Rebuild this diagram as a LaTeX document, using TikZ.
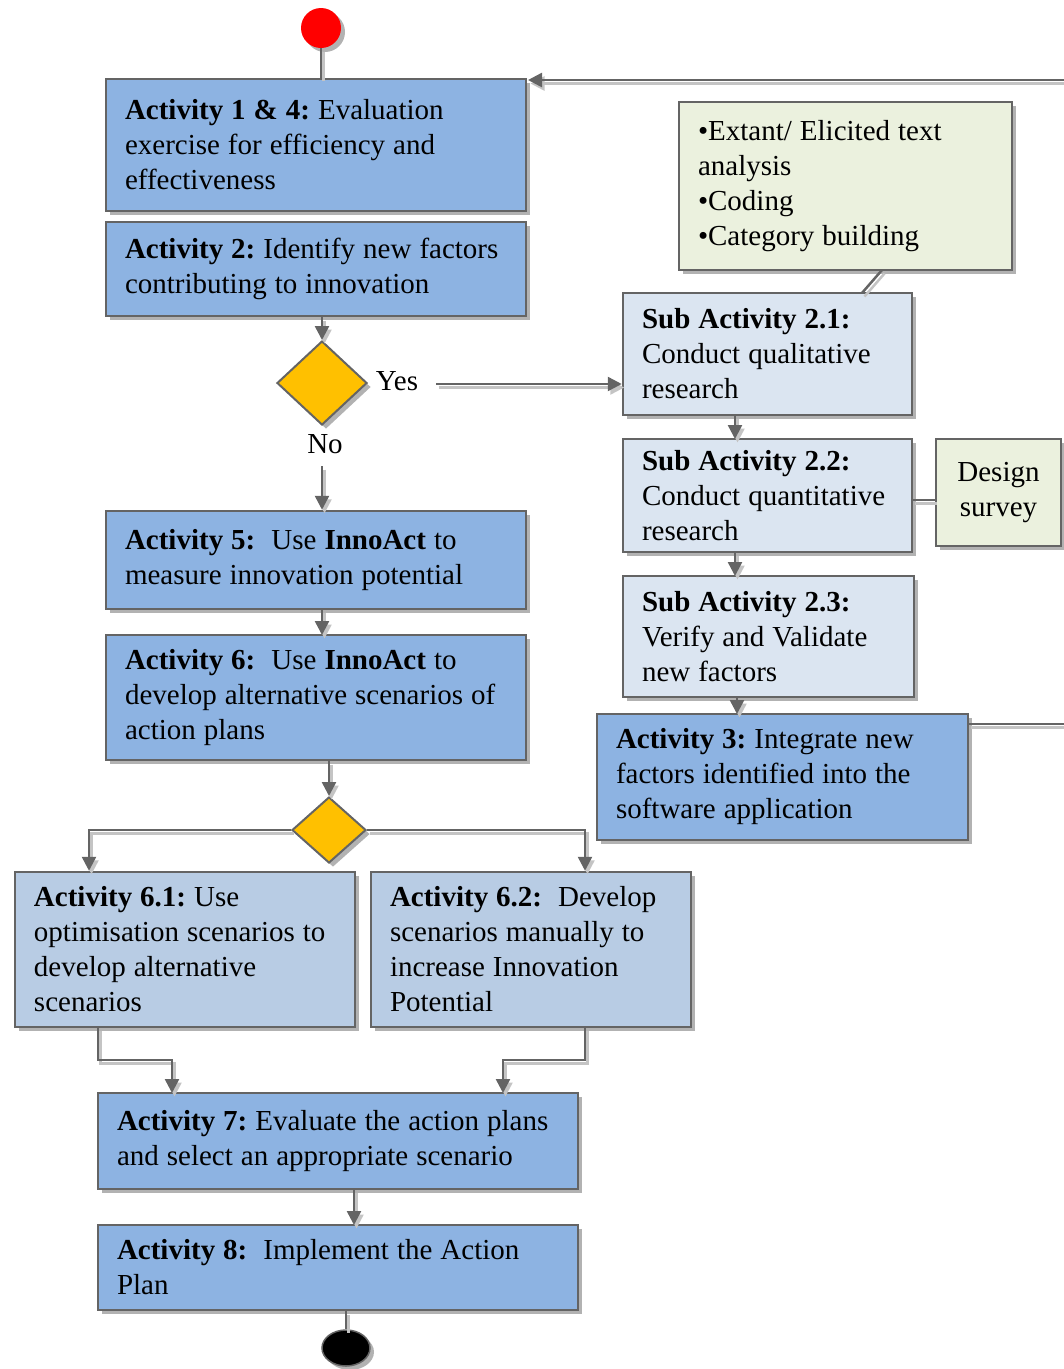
\documentclass[tikz,border=0pt]{standalone}
\usepackage{fontspec}
\setmainfont{Liberation Serif}
\usetikzlibrary{shapes.geometric,shadows,arrows.meta,calc}

\definecolor{actblue}{HTML}{8DB3E2}
\definecolor{midblue}{HTML}{B8CCE4}
\definecolor{paleblue}{HTML}{DBE5F1}
\definecolor{notegreen}{HTML}{EBF1DE}
\definecolor{gold}{HTML}{FFC000}
\definecolor{edge}{HTML}{646464}
\definecolor{shade}{HTML}{C4C4C4}

\newcommand\boxfont{\fontsize{29}{35}\selectfont\frenchspacing\hyphenpenalty=10000\relax}
\newcommand\tightwords{\spaceskip=8pt plus 2pt minus 0.5pt\xspaceskip=8pt\relax}

\tikzset{
  x=1pt, y=1pt,
  softshadow/.style={drop shadow={shadow xshift=4pt, shadow yshift=-4pt, fill=black, opacity=0.3}},
  box/.style={draw=edge, line width=2.5pt, rectangle, align=left,
    inner xsep=19pt, inner ysep=0pt, font=\boxfont, softshadow,
    execute at begin node=\tightwords},
  actbox/.style={box, fill=actblue},
  optbox/.style={box, fill=midblue},
  subbox/.style={box, fill=paleblue},
  notebox/.style={box, fill=notegreen},
  decision/.style={diamond, draw=edge, line width=2pt, fill=gold, inner sep=0pt, softshadow},
  lbl/.style={font=\boxfont, inner sep=0pt},
  link/.style={draw=edge, line width=2.5pt,
    preaction={draw=shade, line width=2.5pt, transform canvas={shift={(2.5pt,-3.5pt)}}}},
  conn/.style={link, -{Triangle[length=14pt,width=14pt]}},
}

\begin{document}
\begin{tikzpicture}
\useasboundingbox (0,0) rectangle (1064,-1369);

% start and end markers
\node[circle, fill=red, minimum size=40pt, inner sep=0pt, softshadow] (start) at (321,-28) {};
\node[ellipse, fill=black, draw=edge, line width=1.5pt, minimum width=48pt, minimum height=36pt, inner sep=0pt, softshadow] (stop) at (346,-1348) {};

% main activities
\node[actbox, text width=382pt, minimum height=132pt] (A1) at (316,-145)
  {\textbf{Activity 1 \& 4:} Evaluation\\exercise for efficiency and\\effectiveness};
\node[actbox, text width=382pt, minimum height=94pt] (A2) at (316,-269)
  {\textbf{Activity 2:} Identify new factors\\contributing to innovation};
\node[decision, minimum width=90pt, minimum height=84pt] (D1) at (322,-383) {};
\node[lbl] (yes) at (397,-381) {Yes};
\node[lbl] (no) at (325,-444) {No};
\node[actbox, text width=382pt, minimum height=98pt] (A5) at (316,-560)
  {\textbf{Activity 5:}\ \ Use \textbf{InnoAct} to\\measure innovation potential};
\node[actbox, text width=382pt, minimum height=125pt] (A6) at (316,-697.5)
  {\textbf{Activity 6:}\ \ Use \textbf{InnoAct} to\\develop alternative scenarios of\\action plans};
\node[decision, minimum width=74pt, minimum height=66pt] (D2) at (329,-830) {};
\node[optbox, text width=302pt, minimum height=155pt] (A61) at (185,-949.5)
  {\textbf{Activity 6.1:} Use\\optimisation scenarios to\\develop alternative\\scenarios};
\node[optbox, text width=282pt, minimum height=155pt] (A62) at (531,-949.5)
  {\textbf{Activity 6.2:}\ \ Develop\\scenarios manually to\\increase Innovation\\Potential};
\node[actbox, text width=442pt, minimum height=96pt] (A7) at (338,-1141)
  {\textbf{Activity 7:} Evaluate the action plans\\and select an appropriate scenario};
\node[actbox, text width=442pt, minimum height=85pt] (A8) at (338,-1267.5)
  {\textbf{Activity 8:}\ \ Implement the Action\\Plan};

% research branch
\node[notebox, text width=295pt, minimum height=168pt] (note) at (845.5,-186)
  {•Extant/ Elicited text\\analysis\\•Coding\\•Category building};
\node[subbox, text width=251pt, minimum height=122pt] (S21) at (767.5,-354)
  {\textbf{Sub Activity 2.1:}\\Conduct qualitative\\research};
\node[subbox, text width=251pt, minimum height=113pt] (S22) at (767.5,-495.5)
  {\textbf{Sub Activity 2.2:}\\Conduct quantitative\\research};
\node[notebox, align=center, inner xsep=0pt, text width=125pt, minimum height=107pt] (design) at (998.5,-492.5)
  {Design\\survey};
\node[subbox, text width=253pt, minimum height=121pt] (S23) at (768.5,-636.5)
  {\textbf{Sub Activity 2.3:}\\Verify and Validate\\new factors};
\node[actbox, text width=333pt, minimum height=126pt] (A3) at (782.5,-777)
  {\textbf{Activity 3:} Integrate new\\factors identified into the\\software application};

% helper points for bends
\coordinate (noTop) at (322,-466);
\coordinate (yesStart) at (436,-384);
\coordinate (leftDrop) at (89,-830);
\coordinate (rightDrop) at (585,-830);
\coordinate (outA3) at (968,-724);
\coordinate (farRight) at (1080,-724);
\coordinate (farTop) at (1080,-80);
\coordinate (inA1) at (528,-80);

% flow on the left
\draw[link] (start) -- (start |- A1.north);
\draw[conn] (D1.north |- A2.south) -- (D1.north);
\draw[conn] (yesStart) -- (S21.west |- yesStart);
\draw[conn] (noTop) -- (noTop |- A5.north);
\draw[conn] (322,-609) -- (322,-635);
\draw[conn] (D2.north |- A6.south) -- (D2.north);
\draw[conn] (D2.west) -- (leftDrop) -- (leftDrop |- A61.north);
\draw[conn] (D2.east) -- (rightDrop) -- (rightDrop |- A62.north);
\draw[conn] (98,-1027) -- (98,-1060) -- (172,-1060) -- (172,-1093);
\draw[conn] (585,-1027) -- (585,-1060) -- (503,-1060) -- (503,-1093);
\draw[conn] (354,-1189) -- (354,-1225);
\draw[link] (stop.north |- A8.south) -- (stop.north);

% flow on the right
\draw[link] (882,-270) -- (862,-293);
\draw[conn] (735,-415) -- (735,-439);
\draw[link] (912,-500) -- (design.west |- 0,-500);
\draw[conn] (735,-552) -- (735,-576);
\draw[conn] (737,-697) -- (737,-714);

% loop back from Activity 3 to Activity 1
\begin{scope}
  \clip (0,0) rectangle (1064,-1369);
  \draw[conn] (outA3) -- (farRight) -- (farTop) -- (inA1);
\end{scope}
\end{tikzpicture}
\end{document}
